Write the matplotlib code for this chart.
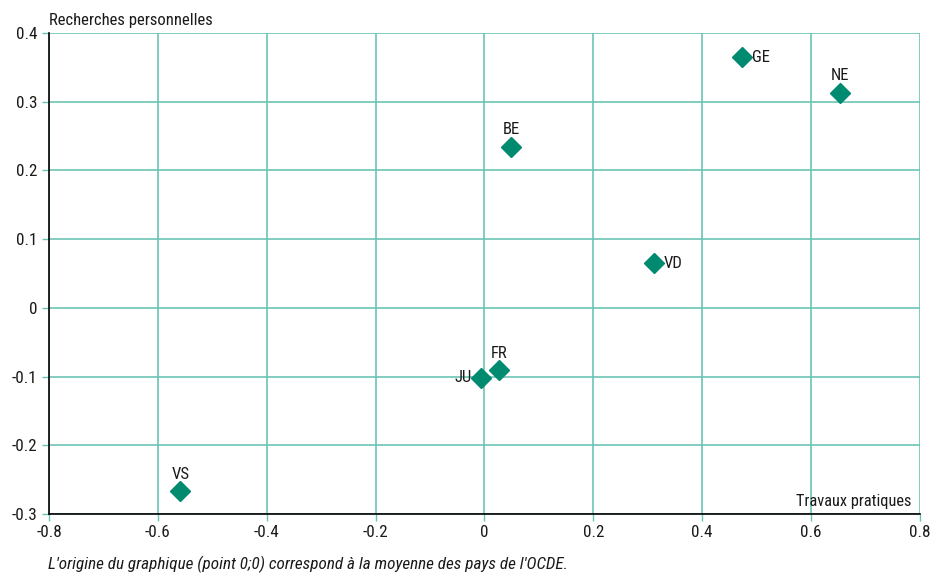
import matplotlib
matplotlib.use("Agg")
import matplotlib.pyplot as plt
from matplotlib import font_manager

names = {f.name for f in font_manager.fontManager.ttflist}
fam = [n for n in ["Roboto Condensed", "Liberation Sans Narrow", "Roboto"] if n in names] + ["DejaVu Sans"]
plt.rcParams["font.family"] = fam

labels = ["GE", "NE", "BE", "VD", "FR", "JU", "VS"]
x_vals = [0.473, 0.653, 0.049, 0.311, 0.027, -0.006, -0.559]
y_vals = [0.365, 0.313, 0.234, 0.065, -0.091, -0.102, -0.267]
label_pos = ["right", "above", "above", "right", "above", "left", "above"]
x_ticks = [-0.8, -0.6, -0.4, -0.2, 0, 0.2, 0.4, 0.6, 0.8]
y_ticks = [-0.3, -0.2, -0.1, 0, 0.1, 0.2, 0.3, 0.4]

marker_color = "#008a70"
grid_color = "#6cc3b5"
text_color = "#1a1a1a"

fig = plt.figure(figsize=(9.32, 5.73), dpi=100)
ax = fig.add_axes([0.0526, 0.1030, 0.9344, 0.8394])
ax.set_xlim(-0.8, 0.8)
ax.set_ylim(-0.3, 0.4)
ax.set_xticks(x_ticks)
ax.set_yticks(y_ticks)
ax.set_xticklabels([f"{t:g}" for t in x_ticks])
ax.set_yticklabels([f"{t:g}" for t in y_ticks])
ax.grid(True, color=grid_color, linewidth=1.2)
ax.set_axisbelow(True)
for s in ["top", "right"]:
    ax.spines[s].set_visible(False)
for s in ["left", "bottom"]:
    ax.spines[s].set_color("black")
    ax.spines[s].set_linewidth(1.2)
ax.tick_params(axis="both", length=5, width=1, color=grid_color, labelsize=12.3, colors=text_color)
ax.tick_params(axis="x", pad=3)

ax.plot(x_vals, y_vals, linestyle="none", marker="D", markersize=10.5, color=marker_color, zorder=3)

fs = 12
for lab, x, y, pos in zip(labels, x_vals, y_vals, label_pos):
    if pos == "right":
        ax.annotate(lab, (x, y), xytext=(7, 0), textcoords="offset points", ha="left", va="center", fontsize=fs, color=text_color)
    elif pos == "left":
        ax.annotate(lab, (x, y), xytext=(-7, 0), textcoords="offset points", ha="right", va="center", fontsize=fs, color=text_color)
    else:
        ax.annotate(lab, (x, y), xytext=(0, 7), textcoords="offset points", ha="center", va="bottom", fontsize=fs, color=text_color)

ax.text(0.0, 1.01, "Recherches personnelles", transform=ax.transAxes, ha="left", va="bottom", fontsize=fs, color=text_color)
ax.text(0.99, 0.01, "Travaux pratiques", transform=ax.transAxes, ha="right", va="bottom", fontsize=11.8, color=text_color)
fig.text(0.052, 0.0, "L'origine du graphique (point 0;0) correspond à la moyenne des pays de l'OCDE.", ha="left", va="bottom", fontsize=12.3, style="italic", color=text_color)

fig.savefig("out.png", dpi=100)
